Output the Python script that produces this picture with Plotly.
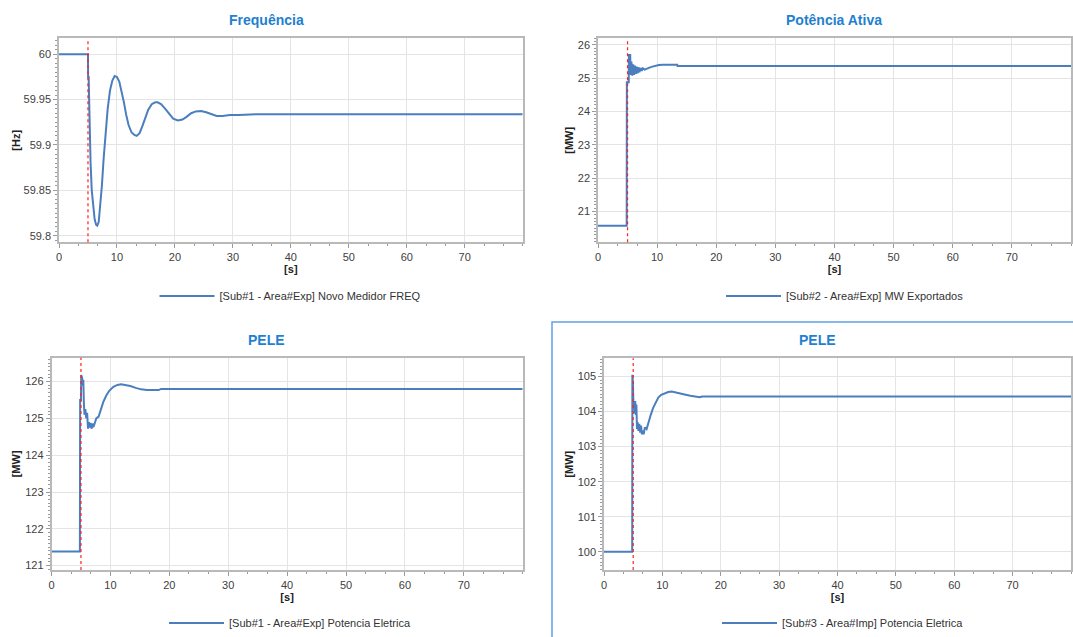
import plotly.graph_objects as go

W, H = 1073, 637

# ---------------- data ----------------
freq_t = [0, 5.0, 5.02, 5.12, 5.2, 5.3, 5.45, 5.65, 5.9, 6.15, 6.4, 6.6, 6.85, 7.1, 7.4,
          7.7, 8.0, 8.4, 8.8, 9.2, 9.6, 10.0, 10.4, 10.8, 11.2, 11.6, 12.0, 12.5, 13.0,
          13.4, 13.9, 14.4, 14.9, 15.4, 16.0, 16.6, 17.0, 17.6, 18.3, 19.0, 19.7, 20.5,
          21.3, 22.0, 22.8, 23.6, 24.5, 25.4, 26.3, 27.2, 28.2, 29.5, 31, 34, 38, 80]
freq_v = [60.0, 60.0, 59.975, 59.975, 59.95, 59.91, 59.88, 59.85, 59.83, 59.818, 59.812, 59.811,
          59.815, 59.83, 59.855, 59.885, 59.91, 59.94, 59.96, 59.971, 59.976, 59.975, 59.97,
          59.96, 59.947, 59.933, 59.922, 59.914, 59.911, 59.910, 59.913, 59.921, 59.931,
          59.939, 59.945, 59.947, 59.947, 59.945, 59.94, 59.934, 59.929, 59.927, 59.928,
          59.931, 59.935, 59.937, 59.9375, 59.936, 59.934, 59.932, 59.932, 59.933, 59.933,
          59.934, 59.934, 59.934]

pot_t = [0, 4.85, 4.88, 5.2, 5.23, 5.45, 5.5, 5.65, 5.8, 5.95, 6.1, 6.25, 6.4, 6.55, 6.7,
         6.85, 7.0, 7.2, 7.4, 7.6, 7.9, 8.3, 8.7, 9.2, 9.7, 10.3, 11.0, 12.0, 13.4, 13.45, 80]
pot_v = [20.58, 20.58, 24.88, 24.88, 25.7, 25.7, 25.1, 25.5, 25.08, 25.42, 25.1, 25.38, 25.13,
         25.35, 25.15, 25.33, 25.18, 25.31, 25.22, 25.3, 25.26, 25.3, 25.32, 25.35, 25.38,
         25.4, 25.41, 25.41, 25.41, 25.37, 25.37]

pele1_t = [0, 4.82, 4.86, 5.0, 5.05, 5.2, 5.3, 5.4, 5.5, 5.6, 5.75, 5.9, 6.05, 6.2, 6.35,
           6.5, 6.65, 6.8, 6.95, 7.1, 7.3, 7.6, 8.0, 8.4, 8.8, 9.3, 9.8, 10.5, 11.2, 11.8,
           12.5, 13.4, 14.3, 15.2, 16.2, 17.2, 18.2, 18.6, 80]
pele1_v = [121.38, 121.38, 125.5, 125.5, 126.18, 126.1, 125.9, 126.05, 125.4, 125.1, 125.25,
           125.0, 125.15, 124.72, 124.9, 124.75, 124.88, 124.72, 124.86, 124.76, 124.85,
           125.0, 125.05, 125.25, 125.45, 125.62, 125.75, 125.86, 125.91, 125.93, 125.91,
           125.88, 125.83, 125.79, 125.77, 125.77, 125.77, 125.8, 125.8]

pele3_t = [0, 4.83, 4.86, 4.95, 5.05, 5.15, 5.25, 5.35, 5.45, 5.55, 5.65, 5.75, 5.9, 6.05,
           6.2, 6.35, 6.5, 6.65, 6.8, 7.0, 7.3, 7.6, 8.0, 8.4, 8.8, 9.3, 9.8, 10.3, 11.0,
           11.6, 12.3, 13.0, 14.0, 14.8, 15.6, 16.4, 16.8, 80]
pele3_v = [100.0, 100.0, 105.05, 104.85, 104.1, 104.3, 103.95, 104.3, 103.9, 104.2, 103.5,
           103.7, 103.45, 103.65, 103.4, 103.6, 103.35, 103.45, 103.35, 103.55, 103.5,
           103.7, 103.9, 104.1, 104.25, 104.4, 104.48, 104.52, 104.56, 104.57, 104.55,
           104.52, 104.48, 104.45, 104.43, 104.41, 104.43, 104.43]

titles = ["Frequência", "Potência Ativa", "PELE", "PELE"]
y_titles = ["[Hz]", "[MW]", "[MW]", "[MW]"]
legend_names = ["[Sub#1 - Area#Exp] Novo Medidor FREQ",
                "[Sub#2 - Area#Exp] MW Exportados",
                "[Sub#1 - Area#Exp] Potencia Eletrica",
                "[Sub#3 - Area#Imp] Potencia Eletrica"]
x_ticks = [0, 10, 20, 30, 40, 50, 60, 70]
event_time = 5.0

series = [(freq_t, freq_v), (pot_t, pot_v), (pele1_t, pele1_v), (pele3_t, pele3_v)]

# ---------------- layout helpers (pixel based) ----------------
def px(x):
    return x / W

def py(y):
    return 1 - y / H

# plot areas in pixels: (left, right, top, bottom)
areas = [(59, 522.7, 38.3, 242.3),
         (598, 1071, 38.3, 242.3),
         (51.5, 522.7, 357.7, 570),
         (604, 1071, 358.3, 570)]
y_ranges = [[59.7927, 60.0176], [20.08, 26.2], [120.88, 126.65], [99.48, 105.52]]
y_dticks = [0.05, 1, 1, 1]
y_minor = [0.005, 0.1, 0.1, 0.1]
y_standoff = [1, 2, 2, 2]
title_pos = [(266, 20), (834, 20), (266, 340), (817, 340)]
legend_pos = [(290, 296), (845, 296), (290, 623), (843, 623)]

LINE = "#4a7ebf"
TITLE_BLUE = "#1f7fd0"
GRID = "#e4e4e4"
FRAME = "#b9b9b9"
TICKC = "#404040"
FONT = "Liberation Sans, Arial, sans-serif"

fig = go.Figure()
layout = dict(
    width=W, height=H,
    margin=dict(l=0, r=0, t=0, b=0, autoexpand=False),
    paper_bgcolor="white", plot_bgcolor="white",
    font=dict(family=FONT, size=11, color=TICKC),
    showlegend=True,
    annotations=[], shapes=[],
)

for i, ((t, v), (l, r, tp, bt)) in enumerate(zip(series, areas)):
    n = "" if i == 0 else str(i + 1)
    leg = "legend" + n
    fig.add_trace(go.Scatter(
        x=t, y=v, mode="lines", name=legend_names[i],
        line=dict(color=LINE, width=2),
        xaxis="x" + n, yaxis="y" + n, legend=leg,
    ))
    layout["xaxis" + n] = dict(
        domain=[px(l), px(r)], range=[0, 80], anchor="y" + n,
        tickvals=x_ticks, showgrid=True, gridcolor=GRID, gridwidth=1,
        showline=True, linecolor=FRAME, linewidth=1.5, mirror=True,
        ticks="outside", ticklen=4, tickcolor="#9a9a9a",
        minor=dict(ticks="outside", ticklen=2, dtick=10 / 3, tick0=0,
                   tickcolor="#9a9a9a", showgrid=False),
        zeroline=False,
        tickfont=dict(size=11, color=TICKC),
        title=dict(text="<b>[s]</b>", font=dict(size=11, color="#222"), standoff=2),
    )
    layout["yaxis" + n] = dict(
        domain=[py(bt), py(tp)], range=y_ranges[i], anchor="x" + n,
        dtick=y_dticks[i], tick0=0, showgrid=True, gridcolor=GRID, gridwidth=1,
        showline=True, linecolor=FRAME, linewidth=1.5, mirror=True,
        ticks="outside", ticklen=4, tickcolor="#9a9a9a",
        minor=dict(ticks="outside", ticklen=2, dtick=y_minor[i],
                   tickcolor="#9a9a9a", showgrid=False),
        zeroline=False,
        tickfont=dict(size=11, color=TICKC),
        title=dict(text="<b>" + y_titles[i] + "</b>", font=dict(size=11, color="#222"),
                   standoff=y_standoff[i]),
    )
    lx, ly = legend_pos[i]
    layout[leg] = dict(
        x=px(lx), y=py(ly), xanchor="center", yanchor="middle",
        orientation="h", bgcolor="rgba(0,0,0,0)",
        font=dict(size=11, color="#333", family=FONT), itemwidth=55,
    )
    tx, ty = title_pos[i]
    layout["annotations"].append(dict(
        x=px(tx), y=py(ty), xref="paper", yref="paper", showarrow=False,
        text="<b>" + titles[i] + "</b>", font=dict(size=14, color=TITLE_BLUE, family=FONT),
        xanchor="center", yanchor="middle",
    ))
    layout["shapes"].append(dict(
        type="line", xref="x" + n, yref="y" + n + " domain",
        x0=event_time, x1=event_time, y0=0, y1=1,
        line=dict(color="#ff2020", width=1.2, dash="dot"),
    ))

# selection highlight around the bottom-right panel
layout["shapes"].append(dict(
    type="rect", xref="paper", yref="paper",
    x0=px(552), x1=px(1090), y0=py(660), y1=py(322),
    line=dict(color="#5ea3e6", width=1.5), fillcolor="rgba(0,0,0,0)", layer="below",
))

fig.update_layout(**layout)
fig.write_html(
    "out.html",
    config={"displayModeBar": False},
    post_script="document.body.style.margin='0px';document.body.style.overflow='hidden';",
)
